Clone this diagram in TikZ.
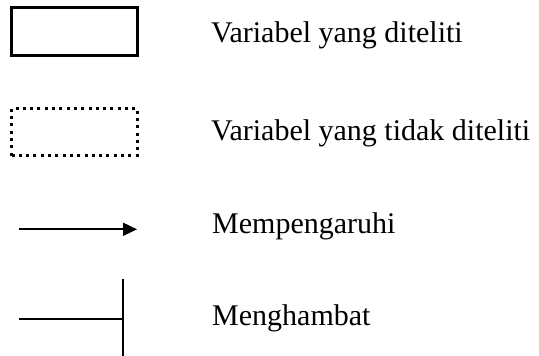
\documentclass[tikz,border=0pt]{standalone}
\usepackage{fontspec}
\setmainfont{Liberation Serif}
\usetikzlibrary{arrows.meta}
\tikzset{
  solidbox/.style={draw=black, line width=3pt, minimum width=126pt, minimum height=48pt, inner sep=0pt},
  dotbox/.style={draw=black, line width=3pt, dash pattern=on 3pt off 4.3pt, minimum width=126pt, minimum height=47pt, inner sep=0pt},
  label/.style={anchor=base west, inner sep=0pt, font=\fontsize{30}{36}\selectfont},
  conn/.style={line width=1.8pt}
}
\begin{document}
\begin{tikzpicture}[x=1pt,y=-1pt]
\useasboundingbox (0,0) rectangle (539,356);
\node[solidbox] (b1) at (74.3,31.5) {};
\node[dotbox] (b2) at (74.5,132) {};
\coordinate (a1) at (19,229.3);
\coordinate (a2) at (137,229.3);
\draw[conn, -{Triangle[length=14pt,width=13pt]}] (a1) -- (a2);
\coordinate (h1) at (19,319.3);
\coordinate (h2) at (123.3,319.3);
\coordinate (h3) at (123.3,279);
\coordinate (h4) at (123.3,358);
\draw[conn] (h1) -- (h2);
\draw[conn] (h3) -- (h4);
\node[label] (t1) at (211,42.5) {Variabel yang diteliti};
\node[label] (t2) at (211,140) {Variabel yang tidak diteliti};
\node[label] (t3) at (212,233) {Mempengaruhi};
\node[label] (t4) at (212,325) {Menghambat};
\end{tikzpicture}
\end{document}
